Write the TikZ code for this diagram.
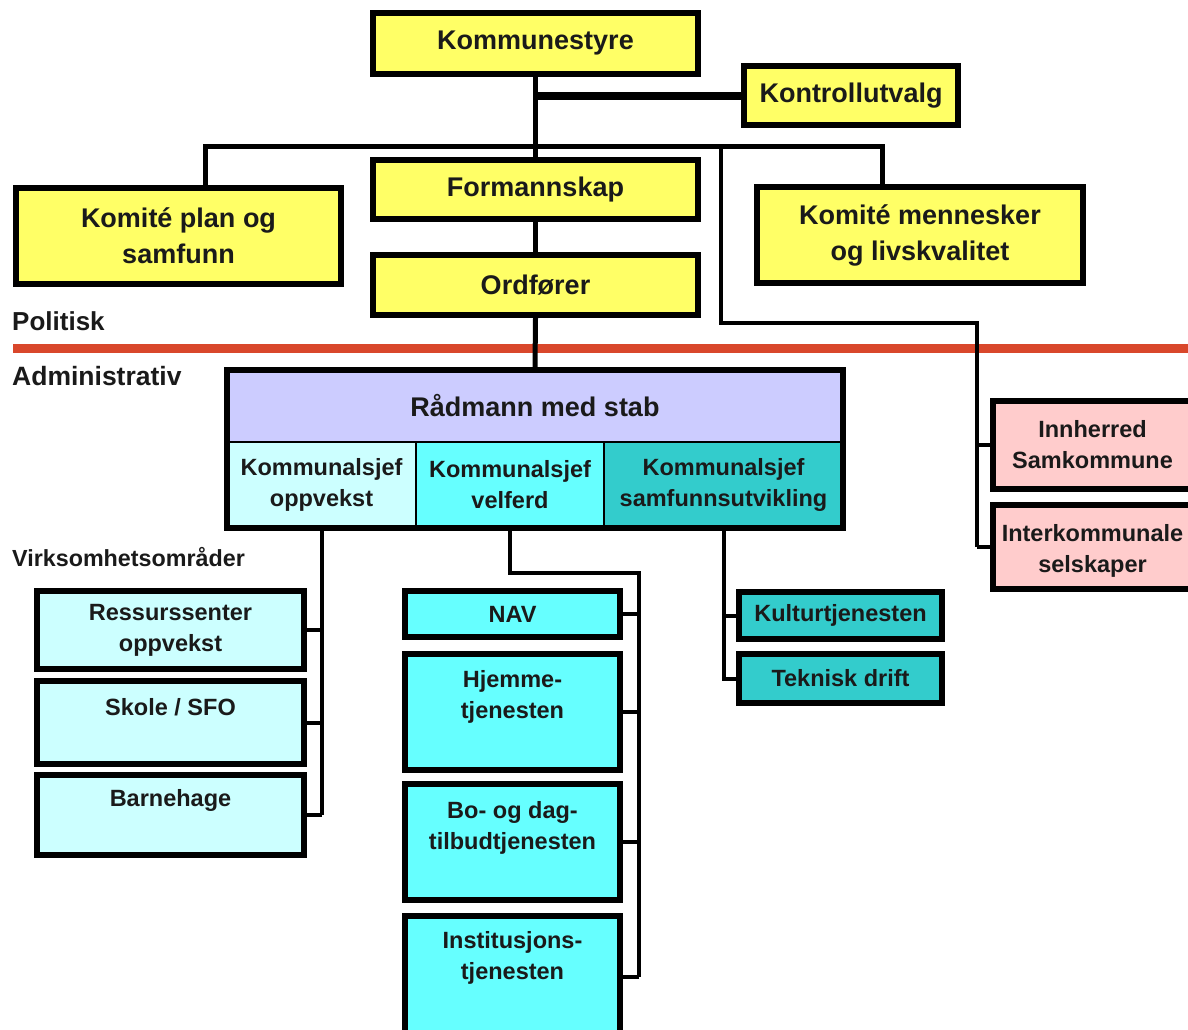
\documentclass[tikz,border=0pt]{standalone}
\usepackage{fontspec}
\setmainfont{Liberation Sans}
\usetikzlibrary{calc}
\definecolor{kyellow}{HTML}{FFFF66}
\definecolor{klav}{HTML}{CCCCFF}
\definecolor{klcyan}{HTML}{CCFFFF}
\definecolor{kcyan}{HTML}{66FFFF}
\definecolor{kteal}{HTML}{33CCCC}
\definecolor{kpink}{HTML}{FFCCCC}
\definecolor{kred}{HTML}{D9472B}
\definecolor{ktext}{HTML}{1A1A1A}
\newcommand\BigF{\bfseries\fontsize{27}{36}\selectfont}
\newcommand\SmlF{\bfseries\fontsize{23.5}{31}\selectfont}
\begin{document}
\begin{tikzpicture}[x=1pt,y=-1pt,
  box/.style={draw=black, line width=6pt, inner sep=0pt, align=center, font=\BigF, text=ktext},
  sbox/.style={box, font=\SmlF},
  cell/.style={draw=black, line width=1.5pt, inner sep=0pt, align=center, font=\SmlF, text=ktext},
  txt/.style={inner sep=0pt, align=center, font=\SmlF, text=ktext},
  lbl/.style={inner sep=0pt, font=\BigF, text=ktext},
  conn/.style={draw=black, line width=5pt},
  sconn/.style={draw=black, line width=4pt}]
\useasboundingbox (0,0) rectangle (1188,1029);
\clip (0,0) rectangle (1188,1029);
\fill[white] (0,0) rectangle (1188,1029);

% red separator
\coordinate (redL) at (13,348);
\coordinate (redR) at (1188,348);
\draw[kred, line width=9pt] (redL) -- (redR);

% labels
\node[lbl, anchor=base west, font=\bfseries\fontsize{26}{30}\selectfont] (pol) at (12,330) {Politisk};
\node[lbl, anchor=base west, font=\bfseries\fontsize{26.5}{30}\selectfont] (adm) at (12,385) {Administrativ};
\node[lbl, anchor=base west, font=\bfseries\fontsize{23.3}{30}\selectfont] (virk) at (12,566) {Virksomhetsområder};

% junction coordinates
\coordinate (hl) at (205,146);
\coordinate (hr) at (882,146);
\coordinate (pv) at (721,146);
\coordinate (pc) at (721,323);
\coordinate (pr) at (977,323);
\coordinate (mt) at (639,573);

% political boxes
\node[box, fill=kyellow, minimum width=325pt, minimum height=61pt] (ks) at (535.5,43.5) {Kommunestyre};
\node[box, fill=kyellow, minimum width=214pt, minimum height=59pt] (kon) at (851,95.5) {Kontrollutvalg};
\node[box, fill=kyellow, minimum width=325pt, minimum height=59pt] (fm) at (535.5,189.5) {Formannskap};
\node[box, fill=kyellow, minimum width=325pt, minimum height=60pt] (ord) at (535.5,285) {Ordfører};
\node[box, fill=kyellow, minimum width=325pt, minimum height=96pt] (kpl) at (178.5,236) {Komité plan og\\samfunn};
\node[box, fill=kyellow, minimum width=326pt, minimum height=96pt] (kml) at (920,235) {Komité mennesker\\og livskvalitet};

% Rådmann block
\node[cell, fill=klav, minimum width=616pt, minimum height=72pt, font=\BigF] (radtop) at (535,406) {Rådmann med stab};
\node[cell, fill=klcyan, minimum width=189pt, minimum height=86pt] (c1) at (321.5,485) {Kommunalsjef\\oppvekst};
\node[cell, fill=kcyan, minimum width=188pt, minimum height=86pt] (c2) at (510,485) {Kommunalsjef\\velferd};
\node[cell, fill=kteal, minimum width=239pt, minimum height=86pt] (c3) at (723.5,485) {Kommunalsjef\\samfunnsutvikling};
\node[draw=black, line width=6pt, inner sep=0pt, minimum width=616pt, minimum height=158pt] (rad) at (535,449) {};

% pink boxes
\node[sbox, fill=kpink, minimum width=199pt, minimum height=88pt] (inn) at (1092.5,445) {Innherred\\Samkommune};
\node[sbox, fill=kpink, minimum width=199pt, minimum height=84pt] (inter) at (1092.5,547) {};
\node[txt] (interT) at (1092.5,551) {Interkommunale\\selskaper};

% left column
\node[sbox, fill=klcyan, minimum width=267pt, minimum height=78pt] (res) at (170.5,630) {Ressurssenter\\oppvekst};
\node[sbox, fill=klcyan, minimum width=267pt, minimum height=83pt] (sko) at (170.5,722.5) {};
\node[txt] (skoT) at (170.5,707) {Skole / SFO};
\node[sbox, fill=klcyan, minimum width=267pt, minimum height=80pt] (bar) at (170.5,815) {};
\node[txt] (barT) at (170.5,800) {Barnehage};

% middle column
\node[sbox, fill=kcyan, minimum width=215pt, minimum height=46pt] (nav) at (512.5,614) {NAV};
\node[sbox, fill=kcyan, minimum width=215pt, minimum height=116pt] (hje) at (512.5,712) {};
\node[txt] (hjeT) at (512.5,697) {Hjemme-\\tjenesten};
\node[sbox, fill=kcyan, minimum width=215pt, minimum height=116pt] (bo) at (512.5,842) {};
\node[txt] (boT) at (512.5,828) {Bo- og dag-\\tilbudtjenesten};
\node[sbox, fill=kcyan, minimum width=215pt, minimum height=121pt] (ins) at (512.5,976.5) {};
\node[txt] (insT) at (512.5,958) {Institusjons-\\tjenesten};

% right column
\node[sbox, fill=kteal, minimum width=203pt, minimum height=47pt] (kul) at (840.5,615.5) {Kulturtjenesten};
\node[sbox, fill=kteal, minimum width=203pt, minimum height=49pt] (tek) at (840.5,678.5) {Teknisk drift};

% connectors political
\draw[conn] (ks.south) -- (fm.north);
\draw[conn] (fm.south) -- (ord.north);
\draw[conn] (ord.south) -- (rad.north);
\draw[draw=black, line width=8pt] (ks.south |- kon.west) -- (kon.west);
\draw[conn] (kpl.north -| hl) -- (hl) -- (hr) -- (kml.north -| hr);
\draw[sconn] (pv) -- (pc) -- (pr) -- (inter.west -| pr);
\draw[sconn] (inn.west -| pr) -- (inn.west);
\draw[sconn] (inter.west -| pr) -- (inter.west);

% left column connectors
\draw[sconn] (c1.south) -- (c1.south |- bar.east);
\draw[sconn] (res.east) -- (res.east -| c1.south);
\draw[sconn] (sko.east) -- (sko.east -| c1.south);
\draw[sconn] (bar.east) -- (bar.east -| c1.south);

% middle column connectors
\draw[sconn] (c2.south) |- (mt) -- (mt |- ins.east);
\draw[sconn] (nav.east) -- (nav.east -| mt);
\draw[sconn] (hje.east) -- (hje.east -| mt);
\draw[sconn] (bo.east) -- (bo.east -| mt);
\draw[sconn] (ins.east) -- (ins.east -| mt);

% right column connectors
\draw[sconn] (c3.south) -- (c3.south |- tek.west) -- (tek.west);
\draw[sconn] (kul.west -| c3.south) -- (kul.west);
\end{tikzpicture}
\end{document}
